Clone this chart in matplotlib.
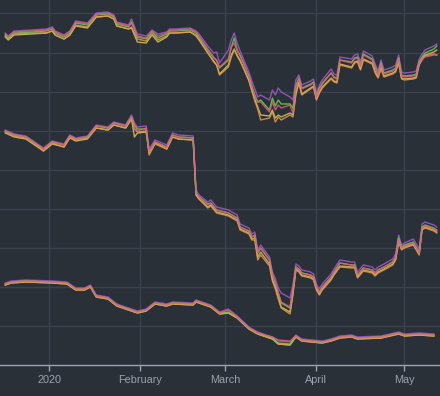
import matplotlib
matplotlib.use("Agg")
import matplotlib.pyplot as plt
import numpy as np
import pandas as pd

# ---------------- data ----------------
g1_dates = ["2019-12-17","2019-12-18","2019-12-20","2019-12-26","2019-12-31","2020-01-02","2020-01-03","2020-01-06",
            "2020-01-08","2020-01-10","2020-01-14","2020-01-17","2020-01-21","2020-01-23","2020-01-24","2020-01-28",
            "2020-01-29","2020-01-31","2020-02-03","2020-02-05","2020-02-07","2020-02-10","2020-02-11","2020-02-13",
            "2020-02-18","2020-02-20","2020-02-21","2020-02-24","2020-02-26","2020-02-27","2020-02-28","2020-03-02",
            "2020-03-03","2020-03-04","2020-03-05","2020-03-06","2020-03-09","2020-03-10","2020-03-11","2020-03-12",
            "2020-03-13","2020-03-16","2020-03-17","2020-03-18","2020-03-19","2020-03-20","2020-03-23","2020-03-24",
            "2020-03-25","2020-03-26","2020-03-27","2020-03-30","2020-03-31","2020-04-01","2020-04-02","2020-04-03",
            "2020-04-06","2020-04-07","2020-04-08","2020-04-09","2020-04-13","2020-04-14","2020-04-15","2020-04-16",
            "2020-04-17","2020-04-20","2020-04-21","2020-04-22","2020-04-23","2020-04-24","2020-04-27","2020-04-28",
            "2020-04-29","2020-04-30","2020-05-01","2020-05-04","2020-05-05","2020-05-06","2020-05-07","2020-05-08",
            "2020-05-11","2020-05-12"]
g1_purple = [332,329,334,335,336,338,334,330,334,344,342,352,353,350,343,340,346,331,329,335,331,333,336,336,
             337,334,331,319,312,313,302,315,325,332,322,314,293,284,276,268,270,265,275,270,277,273,268,265,
             285,290,280,284,286,272,280,285,296,291,290,308,306,310,311,303,314,309,301,294,305,295,298,300,
             310,293,292,293,294,306,311,315,319,321]
g1_pink   = [331,328,333,334,335,337,333,329,333,343,341,351,352,349,342,339,342,329,327,334,329,332,335,335,
             336,333,329,316,308,304,298,306,318,322,314,309,289,279,270,263,263,253,263,255,260,257,260,252,
             278,286,276,280,282,268,276,281,292,287,286,305,302,306,307,299,310,305,297,290,301,291,294,296,
             306,289,288,289,290,302,306,308,310,310]
g1_green  = [330,327,332,333,334,336,332,328,332,342,340,350,351,348,341,338,343,328,326,333,327,331,334,334,
             335,332,328,315,307,305,297,305,318,327,315,310,289,279,270,263,265,255,267,259,265,261,261,257,
             279,287,277,281,283,269,277,282,292,288,287,305,303,307,308,300,311,306,298,291,302,292,295,297,
             307,290,289,290,291,303,308,312,316,319]
g1_orange = [329,326,331,332,332,334,330,326,330,340,338,348,349,346,339,336,338,326,324,331,325,329,332,332,
             333,330,326,312,303,300,290,298,308,315,310,305,284,274,264,256,245,247,253,243,248,245,250,248,
             270,282,270,276,278,265,272,277,286,283,282,300,297,302,303,295,305,301,292,287,296,288,291,293,
             302,286,285,286,287,300,305,309,311,310]
g1_yellow = [328,325,330,331,332,334,330,326,330,339,337,348,349,346,339,336,337,323,322,330,323,328,332,332,
             333,329,325,312,304,300,291,300,310,316,309,304,285,275,266,258,250,249,255,247,250,248,252,250,
             272,283,271,277,279,266,273,278,287,284,283,301,298,303,304,296,306,302,294,288,298,289,292,294,
             303,287,286,287,288,301,306,310,313,315]

g2_dates = ["2019-12-17","2019-12-20","2019-12-24","2019-12-27","2019-12-30","2020-01-02","2020-01-06","2020-01-08",
            "2020-01-10","2020-01-14","2020-01-17","2020-01-21","2020-01-23","2020-01-27","2020-01-29","2020-01-30",
            "2020-01-31","2020-02-03","2020-02-04","2020-02-06","2020-02-10","2020-02-12","2020-02-14","2020-02-19",
            "2020-02-20","2020-02-21","2020-02-24","2020-02-25","2020-02-27","2020-03-02","2020-03-05","2020-03-06",
            "2020-03-09","2020-03-10","2020-03-11","2020-03-12","2020-03-13","2020-03-16","2020-03-17","2020-03-18",
            "2020-03-19","2020-03-20","2020-03-23","2020-03-24","2020-03-25","2020-03-26","2020-03-27","2020-03-30",
            "2020-03-31","2020-04-01","2020-04-02","2020-04-03","2020-04-06","2020-04-07","2020-04-09","2020-04-13",
            "2020-04-14","2020-04-15","2020-04-17","2020-04-20","2020-04-21","2020-04-22","2020-04-24","2020-04-27",
            "2020-04-28","2020-04-29","2020-04-30","2020-05-01","2020-05-04","2020-05-05","2020-05-06","2020-05-07",
            "2020-05-08","2020-05-11","2020-05-12"]
g2_purple = [235,231,229,223,217,224,221,230,227,229,240,238,243,240,250,242,238,239,216,225,220,232,230,229,
             175,170,163,165,158,155,150,141,137,131,133,115,120,108,93,86,77,72,67,80,101,99,95,93,
             91,81,76,81,91,96,105,103,103,93,100,98,95,98,101,106,111,130,120,122,126,121,116,141,
             143,140,138]
g2_pink   = [234,230,228,222,216,223,220,229,226,228,239,237,242,239,248,240,234,237,213,223,218,230,228,227,
             172,168,160,162,155,152,147,138,134,128,130,112,117,105,90,82,72,63,58,76,98,96,92,90,
             88,78,73,78,88,93,102,100,100,90,97,95,92,95,98,103,108,125,117,119,122,117,112,137,
             139,136,134]
g2_green  = [234,230,228,222,216,223,220,229,226,228,239,237,242,239,248,240,236,236,213,223,218,230,228,227,
             172,168,161,162,155,152,147,138,134,128,130,112,117,105,90,82,72,62,57,75,98,96,92,90,
             88,78,73,78,88,93,102,100,100,90,97,95,92,95,98,103,108,127,118,120,123,118,113,138,
             140,137,135]
g2_orange = [233,229,227,221,214,222,218,228,225,227,237,235,240,237,246,236,233,234,210,221,216,228,226,225,
             170,166,157,159,152,149,144,135,131,125,125,105,110,99,84,76,66,57,51,70,95,93,89,87,
             85,75,70,75,85,90,98,97,97,87,94,92,89,92,95,100,105,123,115,117,120,115,110,135,
             137,134,132]
g2_yellow = [232,228,226,220,214,221,218,227,224,226,237,235,240,237,246,228,232,233,212,222,216,228,226,225,
             170,166,158,160,153,150,145,136,132,126,127,108,113,101,86,78,68,58,53,72,96,94,90,88,
             86,76,71,76,86,91,99,98,98,88,95,93,90,93,96,101,106,124,116,118,121,116,111,136,
             138,135,133]

g3_dates = ["2019-12-17","2019-12-19","2019-12-24","2020-01-02","2020-01-07","2020-01-10","2020-01-13","2020-01-15",
            "2020-01-17","2020-01-21","2020-01-24","2020-01-31","2020-02-03","2020-02-06","2020-02-10","2020-02-12",
            "2020-02-19","2020-02-20","2020-02-25","2020-02-28","2020-03-02","2020-03-05","2020-03-09","2020-03-12",
            "2020-03-17","2020-03-19","2020-03-23","2020-03-25","2020-03-27","2020-04-03","2020-04-06","2020-04-09",
            "2020-04-13","2020-04-15","2020-04-23","2020-04-29","2020-05-01","2020-05-06","2020-05-11"]
g3_purple = [82,84,85,84,83,77,77,80,70,68,61,54,56,63,61,63,62,65,60,53,56,49,38,33,28,24,23,30,26,24,26,29,30,28,29,33,31,32,31]
g3_pink   = [81,83,84,83,82,76,76,79,69,67,60,53,55,62,60,62,61,64,59,52,55,48,37,32,28,25,24,29,25,23,25,28,29,27,28,32,30,31,30]
g3_green  = [81,83,84,83,82,76,76,79,69,67,60,53,55,62,60,62,61,64,59,52,53,48,37,32,27,22,21,29,25,23,25,28,29,27,28,32,30,31,30]
g3_orange = [80,82,83,82,81,75,75,78,68,66,59,52,54,61,59,61,60,63,58,51,52,47,36,31,26,21,20,28,24,22,24,27,28,26,27,31,29,30,29]
g3_yellow = [80,82,83,82,81,75,75,78,68,66,59,52,54,61,59,61,60,63,58,51,52,47,36,31,26,21,20,28,24,22,24,27,28,26,27,31,29,30,29]

month_ticks = ["2020-01-01", "2020-02-01", "2020-03-01", "2020-04-01", "2020-05-01"]
month_labels = ["2020", "February", "March", "April", "May"]

colors = {"purple": "#a05ccc", "pink": "#e25d7e", "green": "#6cd24e", "orange": "#e49a4c", "yellow": "#dcc45a"}

groups = [
    (g1_dates, {"purple": g1_purple, "pink": g1_pink, "green": g1_green, "orange": g1_orange, "yellow": g1_yellow}),
    (g2_dates, {"purple": g2_purple, "pink": g2_pink, "green": g2_green, "orange": g2_orange, "yellow": g2_yellow}),
    (g3_dates, {"purple": g3_purple, "pink": g3_pink, "green": g3_green, "orange": g3_orange, "yellow": g3_yellow}),
]

# ---------------- plot ----------------
bg = "#2a3038"
fig = plt.figure(figsize=(4.4, 3.96), dpi=100, facecolor=bg)
ax = fig.add_axes([0, 31 / 396, 1, 365 / 396])
ax.set_facecolor(bg)

for dates, series in groups:
    d = pd.to_datetime(dates)
    for name in ["yellow", "orange", "purple", "green", "pink"]:
        ax.plot(d, series[name], color=colors[name], lw=1.0, alpha=0.85)

jan1 = pd.Timestamp("2020-01-01")
ax.set_xlim(jan1 - pd.Timedelta(days=16.8), jan1 + pd.Timedelta(days=133.1))
ax.set_ylim(0, 365)

ax.set_yticks(np.arange(1, 10) * 39.06)
ax.set_xticks(pd.to_datetime(month_ticks))
ax.set_xticklabels(month_labels)

ax.grid(True, color="#3a424d", lw=1.0)
ax.set_axisbelow(True)
for s in ["top", "left", "right"]:
    ax.spines[s].set_visible(False)
ax.spines["bottom"].set_color("#9aa3ae")
ax.spines["bottom"].set_linewidth(1.0)
ax.tick_params(axis="y", length=0, labelleft=False)
ax.tick_params(axis="x", length=4, width=1, color="#9aa3ae", labelcolor="#9aa3ae",
               labelsize=7.8, pad=3)
for lab in ax.get_xticklabels():
    lab.set_fontfamily("Liberation Sans")

fig.savefig("out.png", dpi=100, facecolor=bg)
